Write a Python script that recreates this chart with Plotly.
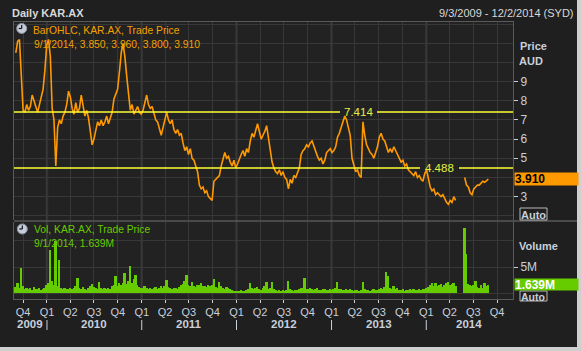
import pandas as pd
import plotly.graph_objects as go

# ---------------- data (weekly) ----------------
week_start = "2009-09-03"
close_aud = [
    10.5, 11.1, 11.2, 9.5, 7.5, 7.4, 7.8, 7.5, 7.7, 8.3,
    8.0, 7.6, 7.4, 7.8, 8.2, 8.6, 9.6, 10.9, 11.2, 10.3,
    7.6, 7.0, 4.6, 6.6, 7.0, 6.8, 7.2, 7.4, 7.8, 8.5,
    8.2, 7.6, 7.3, 7.9, 7.4, 7.6, 8.3, 7.8, 7.2, 7.5,
    7.1, 6.4, 5.7, 6.0, 6.5, 6.9, 6.7, 7.0, 6.7, 6.9,
    7.2, 6.8, 7.1, 7.4, 8.1, 8.4, 8.6, 9.5, 10.5, 11.0,
    10.3, 9.3, 8.2, 7.5, 7.8, 7.3, 7.5, 7.7, 7.4, 7.3,
    7.5, 8.0, 8.3, 7.8, 7.6, 7.7, 7.3, 7.0, 6.9, 6.6,
    6.2, 6.6, 7.0, 7.4, 7.0, 6.8, 7.0, 6.5, 6.3, 6.5,
    6.2, 6.3, 5.8, 5.4, 5.6, 5.2, 5.5, 5.0, 4.9, 4.6,
    4.3, 3.6, 3.4, 3.5, 3.2, 3.3, 3.0, 2.9, 2.8, 3.8,
    3.9, 4.0, 4.1, 4.6, 4.9, 5.3, 5.0, 5.1, 4.8, 4.6,
    4.9, 4.5, 4.7, 5.0, 5.2, 5.4, 5.1, 5.5, 5.3, 5.9,
    6.3, 6.1, 6.5, 6.8, 6.4, 6.0, 6.2, 6.4, 6.7, 6.0,
    5.3, 4.8, 4.5, 4.3, 4.2, 4.4, 4.1, 4.3, 4.0, 3.9,
    3.4, 3.9, 3.7, 4.1, 4.0, 4.3, 4.5, 5.2, 5.4, 5.5,
    5.7, 5.6, 5.8, 5.9, 5.6, 5.3, 5.1, 4.9, 5.0, 4.7,
    4.9, 5.3, 5.4, 5.5, 5.3, 5.4, 5.6, 6.1, 6.3, 6.6,
    7.0, 7.2, 7.0, 6.6, 6.2, 5.0, 4.7, 4.3, 4.4, 4.1,
    4.0, 6.9, 6.2, 5.7, 5.5, 5.3, 5.2, 5.0, 5.3, 5.6,
    6.1, 6.3, 6.0, 5.9, 5.6, 5.3, 5.5, 5.3, 5.6, 5.4,
    5.2, 5.0, 4.8, 4.9, 4.6, 4.7, 4.4, 4.3, 4.2, 4.1,
    4.3, 4.0, 4.1, 3.9, 3.8, 4.2, 4.4, 4.0, 3.5, 3.3,
    3.4, 3.1, 3.2, 3.1, 3.0, 3.1, 2.9, 2.7, 2.6, 2.8,
    2.7, 3.0, 2.8, None, None, None, None, 4.0, 3.6, 3.5,
    3.2, 3.1, 3.4, 3.5, 3.6, 3.6, 3.7, 3.8, 3.75, 3.85, 3.91,
]
volume_m = [
    1.2, 2.0, 1.0, 4.9, 1.3, 0.9, 1.1, 0.8, 1.0, 0.7,
    1.2, 0.9, 0.8, 1.0, 0.7, 0.9, 1.1, 1.5, 2.0, 8.3,
    2.4, 1.6, 10.0, 1.3, 6.4, 1.0, 0.9, 1.1, 0.8, 0.9,
    1.0, 0.9, 1.1, 1.3, 2.9, 1.0, 0.8, 1.2, 0.9, 0.7,
    1.0, 1.4, 1.8, 1.2, 1.0, 0.9, 2.2, 1.0, 0.8, 1.1,
    0.9, 1.0, 0.9, 1.3, 1.6, 3.2, 1.4, 1.9, 1.5, 2.0,
    3.8, 1.8, 2.3, 5.2, 2.0, 2.8, 3.5, 1.6, 1.2, 1.0,
    1.1, 1.3, 1.0, 0.9, 1.1, 0.8, 1.0, 1.2, 0.9, 1.0,
    1.4, 1.1, 1.3, 2.6, 1.2, 1.0, 0.9, 1.1, 1.0, 0.8,
    1.2, 1.5, 1.8, 2.4, 3.5, 1.6, 1.4, 2.2, 1.3, 1.2,
    1.5, 1.6, 1.9, 1.4, 1.3, 1.2, 1.5, 1.4, 1.6, 2.7,
    1.2, 1.1, 2.2, 1.3, 1.0, 0.9, 1.2, 1.0, 0.8, 0.6,
    0.5, 0.4, 0.5, 0.4, 0.6, 0.5, 0.4, 0.6, 0.8, 1.9,
    1.1, 0.9, 1.0, 1.2, 0.8, 0.7, 1.0, 1.3, 2.2, 0.9,
    1.0, 2.2, 0.8, 0.6, 0.5, 0.7, 0.4, 0.6, 0.5, 0.7,
    2.4, 0.8, 0.6, 0.5, 0.7, 0.6, 0.8, 1.0, 1.1, 2.9,
    0.9, 0.8, 1.0, 0.9, 0.7, 0.8, 1.0, 0.6, 0.7, 0.9,
    0.8, 0.7, 0.6, 0.8, 0.7, 0.9, 1.0, 2.2, 0.9, 0.8,
    0.7, 0.6, 0.8, 0.7, 0.9, 0.6, 0.5, 0.7, 0.6, 0.5,
    0.6, 2.2, 0.9, 0.6, 0.7, 0.5, 0.6, 0.8, 0.6, 0.7,
    0.9, 1.0, 0.8, 1.2, 4.0, 3.3, 1.0, 0.9, 1.3, 0.8,
    1.0, 0.7, 0.6, 0.8, 0.5, 0.7, 0.6, 0.8, 0.7, 0.9,
    0.6, 0.7, 0.8, 0.6, 0.9, 0.8, 1.0, 1.2, 1.6, 1.9,
    1.4, 2.0, 1.3, 1.5, 1.8, 1.2, 1.6, 1.9, 2.2, 1.5,
    1.7, 1.9, 1.4, None, None, None, None, 12.4, 7.4, 1.8,
    1.5, 1.3, 1.6, 2.4, 1.2, 1.0, 1.5, 1.1, 2.0, 1.3, 1.639,
]
x_range = ["2009-08-27", "2014-12-01"]
price_ticks = [3, 5, 6, 7, 8, 9]
price_range = [1.78, 12.11]
volume_ticks = [5e6]
volume_tick_text = ["5M"]
volume_range = [-1.08e6, 13.55e6]
ref_levels = [7.414, 4.488]
year_labels = ["2009", "2010", "2011", "2012", "2013", "2014"]
year_centers = ["2009-10-29", "2010-07-02", "2011-07-02", "2012-07-01", "2013-07-02", "2014-06-16"]
year_starts = ["2010-01-01", "2011-01-01", "2012-01-01", "2013-01-01", "2014-01-01"]
last_date = "9/1/2014"
last_ohlc = [3.850, 3.960, 3.800, 3.910]
last_volume = 1.639

dates = pd.date_range(week_start, periods=len(close_aud), freq="7D")
volumes = [None if v is None else v * 1e6 for v in volume_m]
quarter_ticks = pd.date_range("2009-10-01", "2014-10-01", freq="QS")
quarter_text = [f"Q{d.quarter}" for d in quarter_ticks]

# ---------------- style ----------------
PAPER = "#1f1f1f"
PLOT = "#222222"
GRID = "#383838"
FRAME = "#5a5a5a"
TXT = "#c8d0dc"
ORANGE = "#ff9900"
GREEN = "#66cc00"
YELLOW = "#ffff33"
LBL_Y = "#e4f040"
FONT = "Liberation Sans, Arial, sans-serif"

L, R, T, B = 14, 68, 22, 52
W, H = 581, 351
PW, PH = W - L - R, H - T - B


def px(xp):
    return (xp - L) / PW


def py(yp):
    return (H - B - yp) / PH


fig = go.Figure()
fig.add_trace(go.Scatter(
    x=dates, y=close_aud, mode="lines", xaxis="x", yaxis="y",
    line=dict(color=ORANGE, width=1.6), connectgaps=False, hoverinfo="skip"))
fig.add_trace(go.Bar(
    x=dates, y=volumes, xaxis="x2", yaxis="y2",
    marker=dict(color=GREEN, line=dict(width=0)),
    width=7 * 86400000, hoverinfo="skip"))

fig.update_layout(
    width=W, height=H, margin=dict(l=L, r=R, t=T, b=B),
    paper_bgcolor=PAPER, plot_bgcolor=PLOT, showlegend=False,
    hovermode=False, bargap=0,
    font=dict(family=FONT, size=11, color=TXT),
    xaxis=dict(domain=[0, 1], anchor="y", type="date", range=x_range,
               tickvals=quarter_ticks, showticklabels=False, ticks="",
               showgrid=True, gridcolor=GRID, zeroline=False,
               showline=True, linecolor=FRAME, side="top"),
    yaxis=dict(domain=[py(220), 1], anchor="x", range=price_range, side="right",
               tickvals=price_ticks, ticks="outside", ticklen=4, tickcolor=TXT,
               tickfont=dict(size=12, color=TXT),
               showgrid=True, gridcolor=GRID, zeroline=False,
               minor=dict(dtick=1, tick0=0, showgrid=True, gridcolor=GRID, ticks=""),
               showline=True, linecolor=FRAME, mirror=True),
    xaxis2=dict(domain=[0, 1], anchor="y2", type="date", range=x_range, matches="x",
                tickvals=quarter_ticks, ticktext=quarter_text, ticks="outside",
                ticklen=3, tickcolor=TXT, tickfont=dict(size=11, color=TXT),
                showgrid=True, gridcolor=GRID, zeroline=False,
                showline=True, linecolor=FRAME),
    yaxis2=dict(domain=[0, py(222)], anchor="x2", range=volume_range, side="right",
                tickvals=volume_ticks, ticktext=volume_tick_text, ticks="outside",
                ticklen=4, tickcolor=TXT, tickfont=dict(size=12, color=TXT),
                showgrid=True, gridcolor=GRID, zeroline=False,
                minor=dict(dtick=5e6, tick0=0, showgrid=True, gridcolor=GRID, ticks=""),
                showline=True, linecolor=FRAME, mirror=True),
)

shapes = []
# year separator grid lines (thicker)
for ys in year_starts:
    shapes.append(dict(type="line", xref="x", yref="paper", x0=ys, x1=ys,
                       y0=0, y1=1, line=dict(color="#333333", width=2.5), layer="between"))
    shapes.append(dict(type="line", xref="x", yref="paper", x0=ys, x1=ys,
                       y0=py(320), y1=py(330), line=dict(color=TXT, width=1)))
# panel separator
shapes.append(dict(type="line", xref="paper", yref="paper", x0=px(14), x1=px(581),
                   y0=py(221), y1=py(221), line=dict(color=FRAME, width=1.5)))
# reference levels with gaps for labels
gaps = [(340, 377), (420, 459)]
lbl_centers = [358.5, 439]
for lv, (g0, g1) in zip(ref_levels, gaps):
    shapes.append(dict(type="line", xref="paper", yref="y", x0=0, x1=px(g0),
                       y0=lv, y1=lv, line=dict(color=YELLOW, width=1.5)))
    shapes.append(dict(type="line", xref="paper", yref="y", x0=px(g1), x1=1,
                       y0=lv, y1=lv, line=dict(color=YELLOW, width=1.5)))
# Auto boxes
for y0p, y1p in [(220, 208), (301, 291)]:
    shapes.append(dict(type="rect", xref="paper", yref="paper", x0=px(520), x1=px(547),
                       y0=py(y0p), y1=py(y1p), line=dict(color="#b8b8b8", width=1)))
# clock icons
for cx, cy in [(21.7, 28.5), (22.3, 229)]:
    shapes.append(dict(type="circle", xref="paper", yref="paper",
                       x0=px(cx - 5), x1=px(cx + 5), y0=py(cy + 5), y1=py(cy - 5),
                       fillcolor="#c4ccd8", line=dict(color="#8a93a3", width=1)))
    shapes.append(dict(type="line", xref="paper", yref="paper", x0=px(cx), x1=px(cx),
                       y0=py(cy), y1=py(cy - 3.5), line=dict(color="#111111", width=1.2)))
    shapes.append(dict(type="line", xref="paper", yref="paper", x0=px(cx), x1=px(cx - 3),
                       y0=py(cy), y1=py(cy), line=dict(color="#111111", width=1.2)))
# outer window border (right and bottom)
shapes.append(dict(type="rect", xref="paper", yref="paper", x0=px(577), x1=px(583),
                   y0=py(352), y1=py(-1), fillcolor="#cfcfcf", line=dict(width=0)))
shapes.append(dict(type="rect", xref="paper", yref="paper", x0=px(-1), x1=px(583),
                   y0=py(352), y1=py(347), fillcolor="#cfcfcf", line=dict(width=0)))
fig.update_layout(shapes=shapes)

ann = []


def text(x, y, s, color=TXT, size=11, anchor="left", xref="paper", yref="paper", **kw):
    ann.append(dict(x=x, y=y, xref=xref, yref=yref, text=s, showarrow=False,
                    xanchor=anchor, yanchor="middle",
                    font=dict(family=FONT, size=size, color=color), **kw))


text(px(10), py(13), "<b>Daily KAR.AX</b>", color="#d8d8d8", size=11)
text(px(576), py(13), "9/3/2009 - 12/2/2014 (SYD)", color="#d8d8d8", size=11, anchor="right")
text(px(31), py(30.5), "BarOHLC, KAR.AX, Trade Price", color="#f5a000", size=10.3)
text(px(31.5), py(44.5), f"{last_date}, " + ", ".join(f"{v:.3f}" for v in last_ohlc),
     color="#f5a000", size=10.3)
text(px(31.5), py(229.5), "Vol, KAR.AX, Trade Price", color=GREEN, size=10.3)
text(px(31.5), py(243), f"{last_date}, {last_volume:.3f}M", color=GREEN, size=10.3)
text(px(518), py(46), "<b>Price</b>", size=11)
text(px(517), py(61), "<b>AUD</b>", size=11)
text(px(517), py(246), "<b>Volume</b>", size=11)
text(px(519), py(214.5), "<b>Auto</b>", size=11)
text(px(519), py(296.5), "<b>Auto</b>", size=10.5)
for lv, c in zip(ref_levels, lbl_centers):
    text(px(c), lv, f"{lv:.3f}", color=LBL_Y, size=11.5, anchor="center", yref="y")
for lbl, c in zip(year_labels, year_centers):
    text(c, py(324), f"<b>{lbl}</b>", size=11.5, anchor="center", xref="x2")
# last value boxes
ann.append(dict(x=px(514), y=last_ohlc[3], xref="paper", yref="y", text=f"<b>{last_ohlc[3]:.3f}</b>",
                showarrow=False, xanchor="left", yanchor="middle", align="left",
                width=63, height=12, bgcolor=ORANGE, borderpad=0,
                font=dict(family=FONT, size=12, color="#000000")))
ann.append(dict(x=px(514), y=last_volume * 1e6, xref="paper", yref="y2", text=f"<b>{last_volume:.3f}M</b>",
                showarrow=False, xanchor="left", yanchor="middle", align="left",
                width=63, height=11, bgcolor=GREEN, borderpad=0,
                font=dict(family=FONT, size=12, color="#ffffff")))
fig.update_layout(annotations=ann)

fig.write_html("out.html")
